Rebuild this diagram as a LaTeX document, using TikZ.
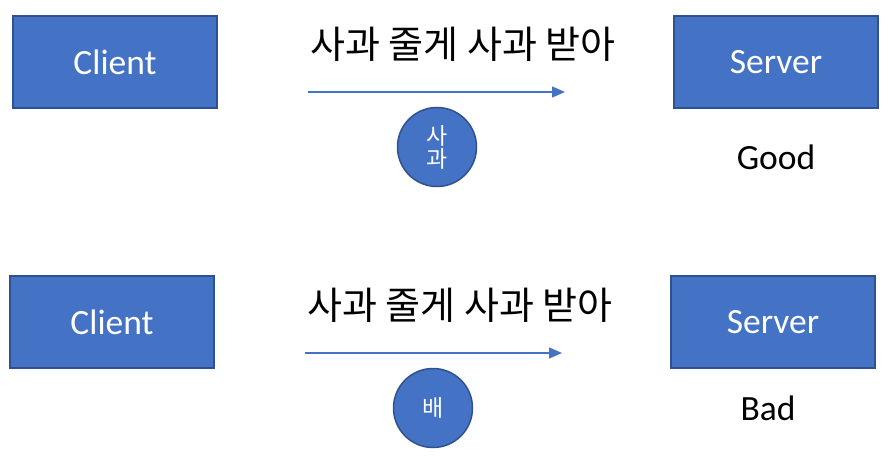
\documentclass[tikz,border=0pt]{standalone}
\usepackage{fontspec}
\setmainfont{Carlito}
\newfontfamily\cjk{Noto Sans CJK KR}
\usetikzlibrary{arrows.meta}
\definecolor{boxfill}{HTML}{4472C4}
\definecolor{boxline}{HTML}{2F528F}
\begin{document}
\begin{tikzpicture}[x=1pt,y=-1pt,
  boxnode/.style={draw=boxline,line width=1.5pt,fill=boxfill,text=white,minimum width=204pt,minimum height=92pt,inner sep=0pt,font=\fontsize{35.5}{40}\selectfont},
  ballnode/.style={circle,draw=boxline,line width=1.5pt,fill=boxfill,text=white,minimum size=79pt,inner sep=0pt,font=\cjk\fontsize{23}{27}\selectfont,align=center},
  titlenode/.style={inner sep=0pt,font=\cjk\fontsize{38}{44}\selectfont},
  labnode/.style={inner sep=0pt,font=\fontsize{35.5}{40}\selectfont},
  msgarrow/.style={draw=boxfill,line width=1.5pt,-{Triangle[length=13pt,width=11pt]}}]
\useasboundingbox (0,0) rectangle (889,465);
% top row
\node[boxnode] (c1) at (115,62) {Client};
\node[boxnode] (s1) at (776,62) {Server};
\node[titlenode] (t1) at (463,44) {사과 줄게 사과 받아};
\coordinate (a1s) at (308,92);
\coordinate (a1e) at (565,92);
\draw[msgarrow] (a1s) -- (a1e);
\node[ballnode] (b1) at (437,147) {사\\[-4pt]과};
\node[labnode] (g1) at (776,157) {Good};
% bottom row
\node[boxnode] (c2) at (112,322) {Client};
\node[boxnode] (s2) at (773,322) {Server};
\node[titlenode] (t2) at (460,305) {사과 줄게 사과 받아};
\coordinate (a2s) at (305,353);
\coordinate (a2e) at (562,353);
\draw[msgarrow] (a2s) -- (a2e);
\node[ballnode] (b2) at (433,408) {배};
\node[labnode] (g2) at (768,408) {Bad};
\end{tikzpicture}
\end{document}
